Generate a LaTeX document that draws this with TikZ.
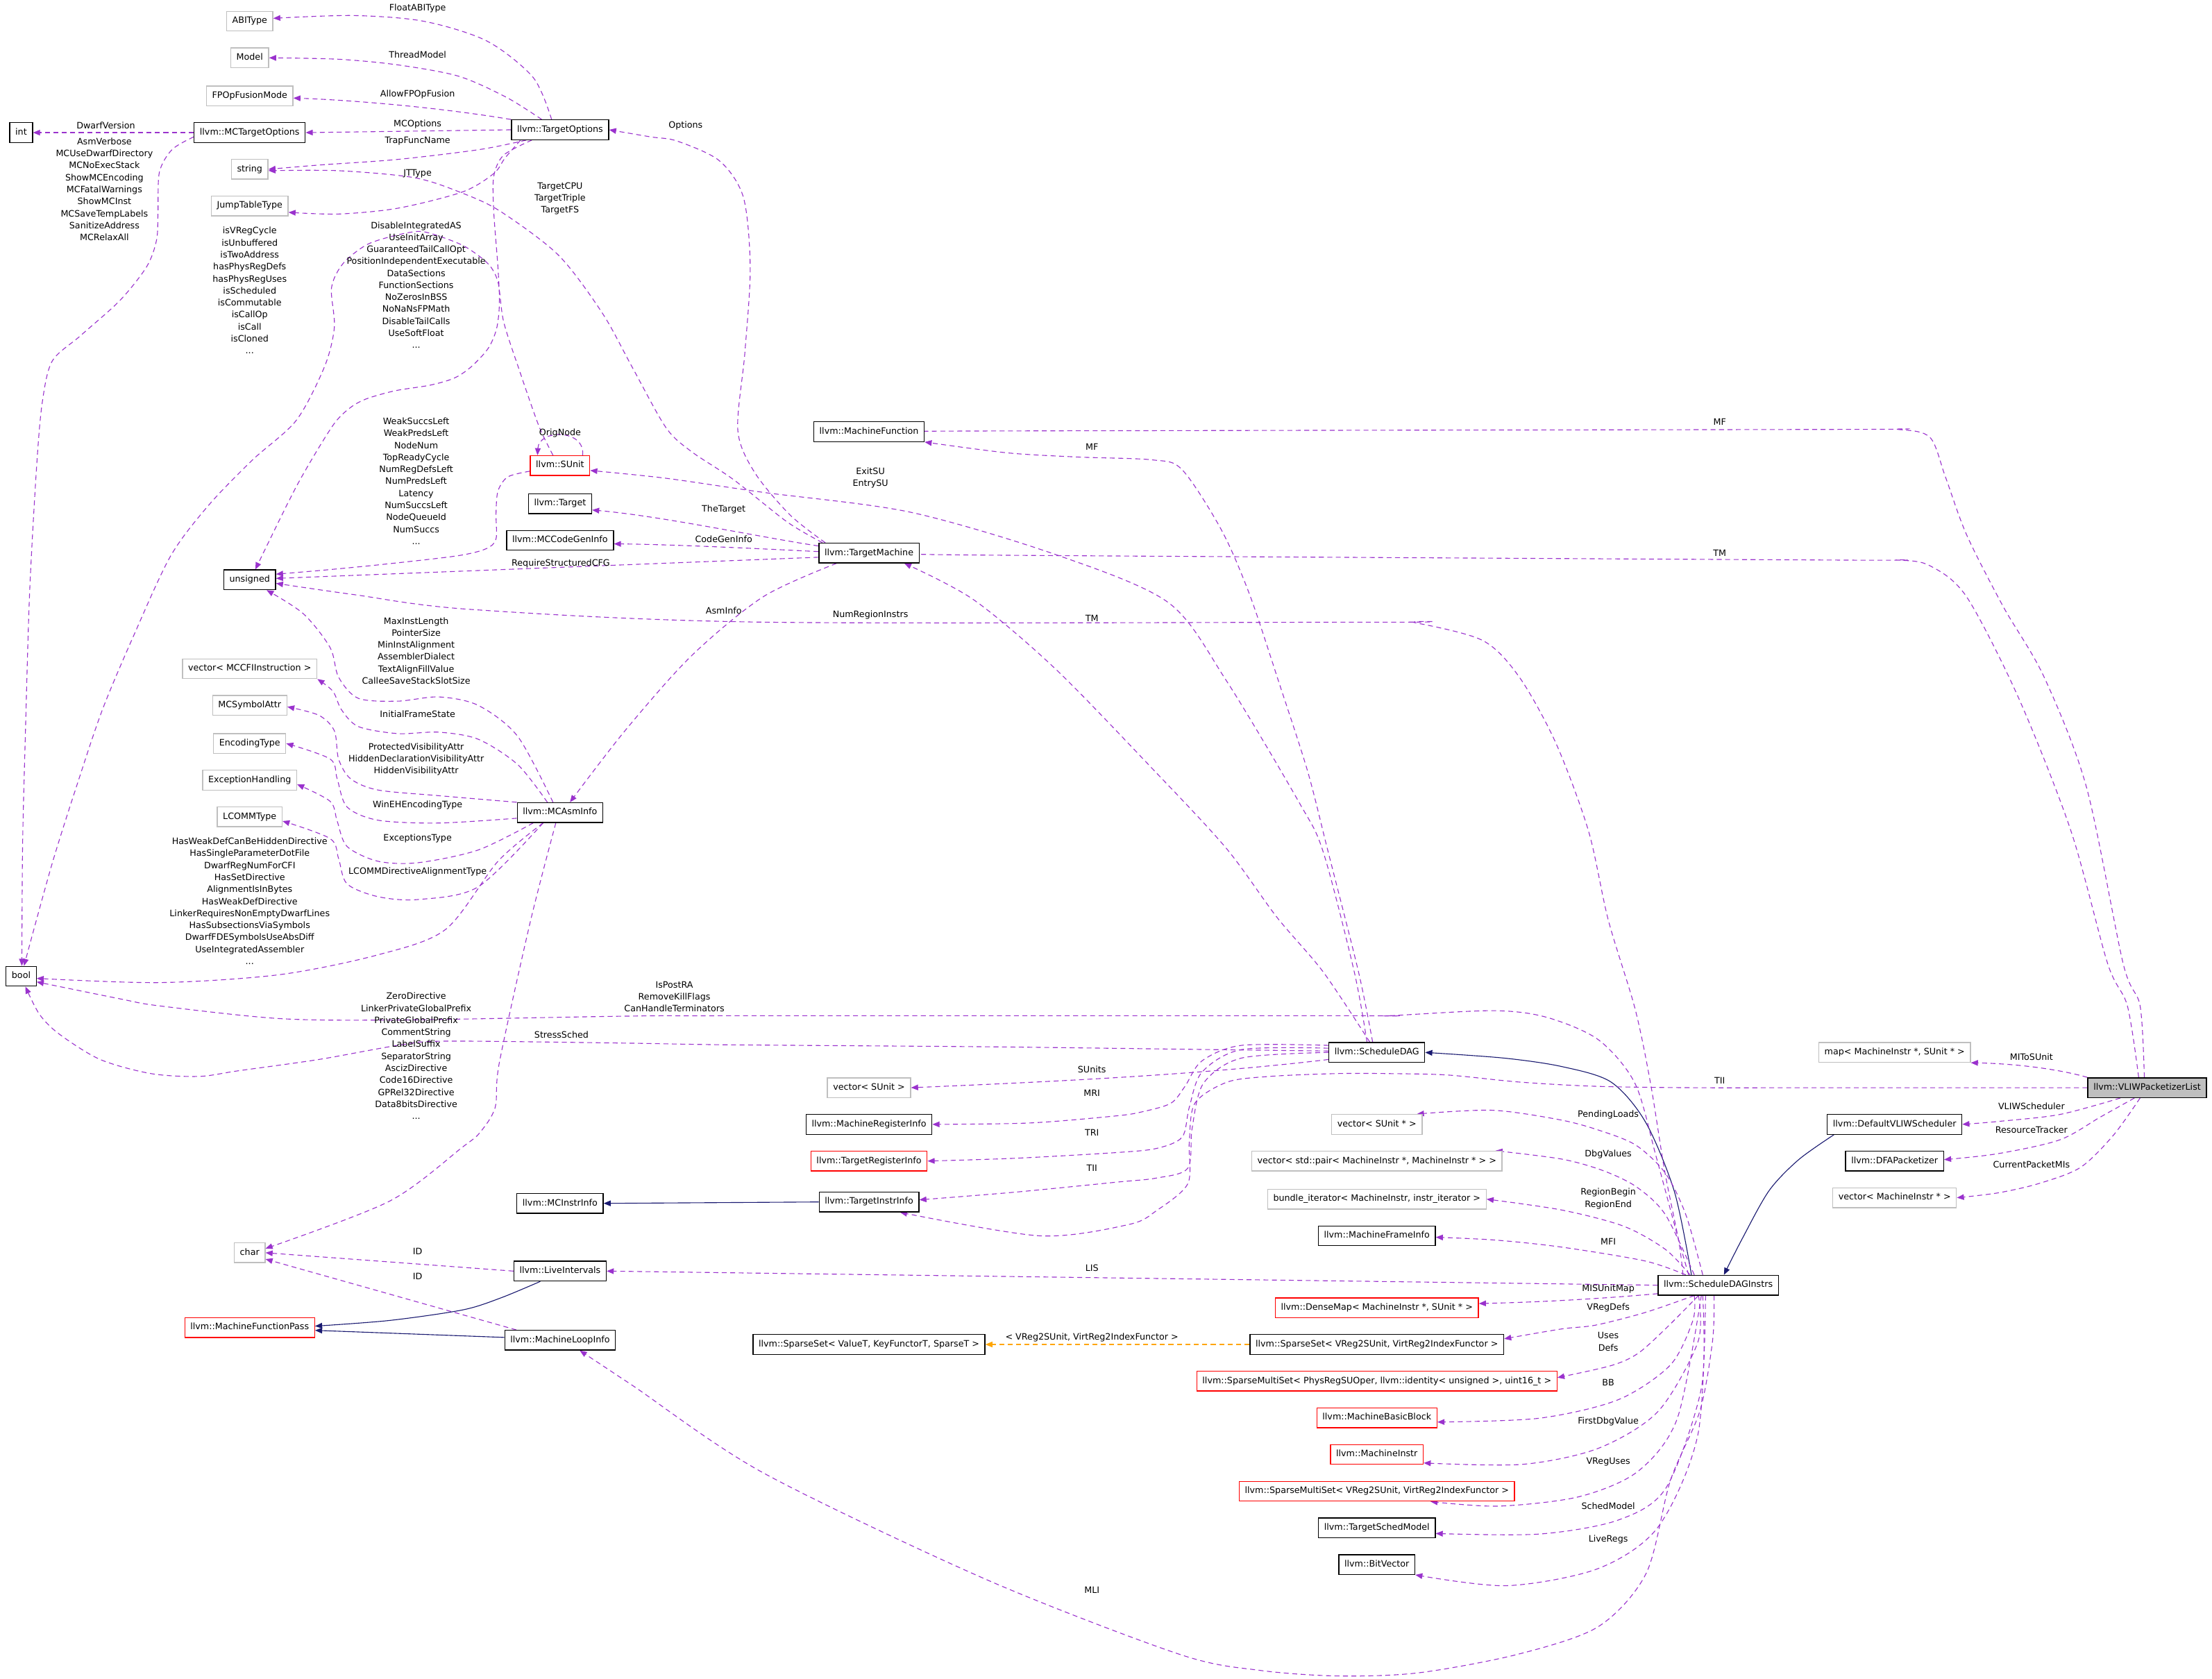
\documentclass[tikz,border=0pt]{standalone}
\usepackage{fontspec}
\setmainfont{DejaVu Sans}
\usetikzlibrary{arrows.meta}
\definecolor{purp}{HTML}{9A32CD}
\definecolor{navyc}{HTML}{191970}
\definecolor{orng}{HTML}{FFA500}
\definecolor{greyc}{HTML}{BFBFBF}
\newcommand\dfont{\fontsize{6.25}{8.5}\selectfont}
\pgfdeclarelayer{bg}
\pgfsetlayers{bg,main}
\tikzset{
 base/.style={rectangle, font=\dfont, minimum height=14pt, inner xsep=4pt, inner ysep=0pt, text height=4.6pt, text depth=1.4pt, line width=0.65pt, fill=white},
 cls/.style={base, draw=black},
 ext/.style={base, draw=greyc},
 redc/.style={base, draw=red},
 cur/.style={base, draw=black, fill=greyc},
 lab/.style={font=\dfont, inner sep=0pt, align=center},
 ed/.style={draw=purp, dash pattern=on 3.5pt off 2.5pt, line width=0.55pt, -{Triangle[length=5pt,width=4pt]}},
 inh/.style={draw=navyc, line width=0.55pt, -{Triangle[length=5pt,width=4pt]}},
 tmpl/.style={draw=orng, dash pattern=on 3.5pt off 2.5pt, line width=0.55pt, -{Triangle[length=5pt,width=4pt]}},
 sm/.style={smooth, tension=0.5}
}
\begin{document}
\begin{tikzpicture}[x=1pt,y=-1pt]
\useasboundingbox (0,0) rectangle (1568,1190);
% ---------- nodes ----------
\node[ext] (ABI) at (177,15) {ABIType};
\node[ext] (Model) at (177,41) {Model};
\node[ext] (FPO) at (177,68) {FPOpFusionMode};
\node[cls] (int) at (15,94) {int};
\node[cls] (MCTO) at (177,94) {llvm::MCTargetOptions};
\node[cls] (TO) at (397,92) {llvm::TargetOptions};
\node[ext] (str) at (177,120) {string};
\node[ext] (JTT) at (177,146) {JumpTableType};
\node[redc] (SU) at (397,330) {llvm::SUnit};
\node[cls] (Tgt) at (397,357) {llvm::Target};
\node[cls] (MCCGI) at (397,383) {llvm::MCCodeGenInfo};
\node[cls] (uns) at (177,411) {unsigned};
\node[ext] (vCFI) at (177,474) {vector< MCCFIInstruction >};
\node[ext] (MSA) at (177,500) {MCSymbolAttr};
\node[ext] (Enc) at (177,527) {EncodingType};
\node[ext] (ExH) at (177,553) {ExceptionHandling};
\node[ext] (LCT) at (177,579) {LCOMMType};
\node[cls] (MAI) at (397,576) {llvm::MCAsmInfo};
\node[cls] (bool) at (15,692) {bool};
\node[cls] (MII) at (397,853) {llvm::MCInstrInfo};
\node[ext] (chr) at (177,888) {char};
\node[cls] (LI) at (397,901) {llvm::LiveIntervals};
\node[redc] (MFP) at (177,941) {llvm::MachineFunctionPass};
\node[cls] (MLI) at (397,950) {llvm::MachineLoopInfo};
\node[cls] (MF) at (616,306) {llvm::MachineFunction};
\node[cls] (TM) at (616,392) {llvm::TargetMachine};
\node[cls] (SD) at (976,746) {llvm::ScheduleDAG};
\node[ext] (vSU) at (616,771) {vector< SUnit >};
\node[cls] (MRI) at (616,797) {llvm::MachineRegisterInfo};
\node[redc] (TRI) at (616,823) {llvm::TargetRegisterInfo};
\node[cls] (TII) at (616,852) {llvm::TargetInstrInfo};
\node[ext] (vSUp) at (976,797) {vector< SUnit * >};
\node[ext] (vPair) at (976,823) {vector< std::pair< MachineInstr *, MachineInstr * > >};
\node[ext] (bIt) at (976,850) {bundle\_iterator< MachineInstr, instr\_iterator >};
\node[cls] (MFI) at (976,876) {llvm::MachineFrameInfo};
\node[redc] (DM) at (976,927) {llvm::DenseMap< MachineInstr *, SUnit * >};
\node[cls] (SST) at (616,953) {llvm::SparseSet< ValueT, KeyFunctorT, SparseT >};
\node[cls] (SSV) at (976,953) {llvm::SparseSet< VReg2SUnit, VirtReg2IndexFunctor >};
\node[redc] (SMP) at (976,979) {llvm::SparseMultiSet< PhysRegSUOper, llvm::identity< unsigned >, uint16\_t >};
\node[redc] (MBB) at (976,1005) {llvm::MachineBasicBlock};
\node[redc] (MI) at (976,1031) {llvm::MachineInstr};
\node[redc] (SMV) at (976,1057) {llvm::SparseMultiSet< VReg2SUnit, VirtReg2IndexFunctor >};
\node[cls] (TSM) at (976,1083) {llvm::TargetSchedModel};
\node[cls] (BV) at (976,1109) {llvm::BitVector};
\node[ext] (map) at (1343,746) {map< MachineInstr *, SUnit * >};
\node[cur] (VL) at (1522,771) {llvm::VLIWPacketizerList};
\node[cls] (DVS) at (1343,797) {llvm::DefaultVLIWScheduler};
\node[cls] (DFA) at (1343,823) {llvm::DFAPacketizer};
\node[ext] (vMI) at (1343,849) {vector< MachineInstr * >};
\node[cls] (SDI) at (1218,911) {llvm::ScheduleDAGInstrs};
% ---------- labels ----------
\node[lab] (L1) at (296,6) {FloatABIType};
\node[lab] (L2) at (296,39) {ThreadModel};
\node[lab] (L3) at (296,67) {AllowFPOpFusion};
\node[lab] (L4) at (75,89) {DwarfVersion};
\node[lab] (L5) at (296,88) {MCOptions};
\node[lab] (L6) at (296,100) {TrapFuncName};
\node[lab] (L7) at (296,123) {JTType};
\node[lab] (L8) at (74,134.2) {AsmVerbose\\MCUseDwarfDirectory\\MCNoExecStack\\ShowMCEncoding\\MCFatalWarnings\\ShowMCInst\\MCSaveTempLabels\\SanitizeAddress\\MCRelaxAll};
\node[lab] (L9) at (397,140.7) {TargetCPU\\TargetTriple\\TargetFS};
\node[lab] (L10) at (177,205.9) {isVRegCycle\\isUnbuffered\\isTwoAddress\\hasPhysRegDefs\\hasPhysRegUses\\isScheduled\\isCommutable\\isCallOp\\isCall\\isCloned\\...};
\node[lab] (L11) at (295,202) {DisableIntegratedAS\\UseInitArray\\GuaranteedTailCallOpt\\PositionIndependentExecutable\\DataSections\\FunctionSections\\NoZerosInBSS\\NoNaNsFPMath\\DisableTailCalls\\UseSoftFloat\\...};
\node[lab] (L12) at (397,307) {OrigNode};
\node[lab] (L13) at (295,341) {WeakSuccsLeft\\WeakPredsLeft\\NodeNum\\TopReadyCycle\\NumRegDefsLeft\\NumPredsLeft\\Latency\\NumSuccsLeft\\NodeQueueId\\NumSuccs\\...};
\node[lab] (L14) at (397.5,399.5) {RequireStructuredCFG};
\node[lab] (L15) at (513,361) {TheTarget};
\node[lab] (L16) at (513,382) {CodeGenInfo};
\node[lab] (L17) at (513,433) {AsmInfo};
\node[lab] (L18) at (486,89) {Options};
\node[lab] (L19) at (774,317) {MF};
\node[lab] (L20) at (617,338.7) {ExitSU\\EntrySU};
\node[lab] (L21) at (1219,299) {MF};
\node[lab] (L22) at (1219,392) {TM};
\node[lab] (L23) at (617,436) {NumRegionInstrs};
\node[lab] (L24) at (774,438.5) {TM};
\node[lab] (L25) at (295,461.3) {MaxInstLength\\PointerSize\\MinInstAlignment\\AssemblerDialect\\TextAlignFillValue\\CalleeSaveStackSlotSize};
\node[lab] (L26) at (296,506) {InitialFrameState};
\node[lab] (L27) at (295,538.3) {ProtectedVisibilityAttr\\HiddenDeclarationVisibilityAttr\\HiddenVisibilityAttr};
\node[lab] (L28) at (296,570.5) {WinEHEncodingType};
\node[lab] (L29) at (296,594.2) {ExceptionsType};
\node[lab] (L30) at (296,617.7) {LCOMMDirectiveAlignmentType};
\node[lab] (L31) at (177,638.7) {HasWeakDefCanBeHiddenDirective\\HasSingleParameterDotFile\\DwarfRegNumForCFI\\HasSetDirective\\AlignmentIsInBytes\\HasWeakDefDirective\\LinkerRequiresNonEmptyDwarfLines\\HasSubsectionsViaSymbols\\DwarfFDESymbolsUseAbsDiff\\UseIntegratedAssembler\\...};
\node[lab] (L32) at (478,706.5) {IsPostRA\\RemoveKillFlags\\CanHandleTerminators};
\node[lab] (L33) at (295,748.5) {ZeroDirective\\LinkerPrivateGlobalPrefix\\PrivateGlobalPrefix\\CommentString\\LabelSuffix\\SeparatorString\\AscizDirective\\Code16Directive\\GPRel32Directive\\Data8bitsDirective\\...};
\node[lab] (L34) at (398,733.4) {StressSched};
\node[lab] (L35) at (774,758) {SUnits};
\node[lab] (L36) at (774,775) {MRI};
\node[lab] (L37) at (774,803) {TRI};
\node[lab] (L38) at (774,828) {TII};
\node[lab] (L39) at (1219,766) {TII};
\node[lab] (L40) at (774,899) {LIS};
\node[lab] (L41) at (296,887) {ID};
\node[lab] (L42) at (296,904.6) {ID};
\node[lab] (L43) at (774,948.3) {< VReg2SUnit, VirtReg2IndexFunctor >};
\node[lab] (L44) at (774,1127) {MLI};
\node[lab] (L45) at (1140,790) {PendingLoads};
\node[lab] (L46) at (1140,818) {DbgValues};
\node[lab] (L47) at (1140,849.7) {RegionBegin\\RegionEnd};
\node[lab] (L48) at (1140,880) {MFI};
\node[lab] (L49) at (1140,913.4) {MISUnitMap};
\node[lab] (L50) at (1140,927) {VRegDefs};
\node[lab] (L51) at (1140,951) {Uses\\Defs};
\node[lab] (L52) at (1140,980) {BB};
\node[lab] (L53) at (1140,1007.5) {FirstDbgValue};
\node[lab] (L54) at (1140,1036.3) {VRegUses};
\node[lab] (L55) at (1140,1067.6) {SchedModel};
\node[lab] (L56) at (1140,1091.2) {LiveRegs};
\node[lab] (L57) at (1440,749.3) {MIToSUnit};
\node[lab] (L58) at (1440,784) {VLIWScheduler};
\node[lab] (L59) at (1440,801) {ResourceTracker};
\node[lab] (L60) at (1440,825.3) {CurrentPacketMIs};
% ---------- edges ----------
\begin{pgfonlayer}{bg}
% TargetOptions
\draw[ed] plot[sm] coordinates {([xshift=-6pt]TO.north) (378,55) (345,29) (300,15) (250,11) ([yshift=2pt]ABI.east)};
\draw[ed] plot[sm] coordinates {([xshift=-13pt]TO.north) (359,69) (325,54) (282,46) (240,42) (Model.east)};
\draw[ed] (TO.north west) .. controls (310,76) and (250,71) .. ([yshift=-1.5pt]FPO.east);
\draw[ed] (TO.west) -- (MCTO.east);
\draw[ed] (MCTO.west) -- (int.east);
\draw[ed] plot[sm] coordinates {([yshift=-3pt]MCTO.west) (122,106) (113,122) (112,150) (111,170) (104,189) (85,213) (57,238) (37,256) (30,285) (26,330) (21,420) (18,520) (16,600) ([xshift=0.5pt]bool.north)};
\draw[ed] plot[sm] coordinates {([xshift=-24pt]TO.south) (340,106) (282,113) (226,117) (str.east)};
\draw[ed] plot[sm] coordinates {([xshift=-28pt]TO.south) (358,112) (350,123) (328,136) (282,147.6) (240,151.7) ([yshift=-4.5pt]JTT.east)};
\draw[ed] plot[sm] coordinates {([xshift=-20pt]TO.south) (357,110) (350,125) (350,150) (353,190) (354,215) (352,233) (346,247) (334,260) (322,268) (305,273) (280,277) (259,283) (247,290) (235,303) (210,345) ([xshift=4pt]uns.north)};
% TargetMachine
\draw[ed] plot[sm] coordinates {([xshift=-33pt]TM.north) (558,370) (520,340) (490,320) (472,303) (448,260) (427,222) (396,181) (355,150) (328,137) (294,126) (240,121) ([yshift=-1pt]str.east)};
\draw[ed] plot[sm] coordinates {([xshift=-31pt]TM.north) (560,365) (535,335) (523,305) (528,250) (531.8,190) (527,140) (510,114) (480,100) (461,97) (TO.east)};
\draw[ed] ([yshift=5pt]TM.west) .. controls (540,381) and (470,366) .. ([yshift=-4.5pt]Tgt.east);
\draw[ed] ([yshift=1pt]TM.west) .. controls (540,389) and (480,386) .. ([yshift=-2.5pt]MCCGI.east);
\draw[ed] ([yshift=-3pt]TM.west) -- ([yshift=1pt]uns.east);
\draw[ed] plot[sm] coordinates {([xshift=-23pt]TM.south) (541,423) (490,465) (443,518) ([xshift=7pt]MAI.north)};
% SUnit
\draw[ed] plot[sm] coordinates {([xshift=-5pt]SU.north) (382,302) (368,262) (357,228) (353,200) (346,187) (330,175) (313,168) (297,164) (276,168) (259,174) (243,187) (235,204) (237,232) (230,260) (210,298) (179,326) (148,358) (121,394) (95,450) (73,502) (56,552) (37,612) ([xshift=2pt]bool.north)};
\draw[ed] ([xshift=16pt]SU.north) .. controls (415,304) and (382,304) .. ([xshift=-16pt]SU.north);
\draw[ed] plot[sm] coordinates {([yshift=-4pt]SU.west) (360,338) (353,348) (351.6,364) (351.6,382) (344.5,389) (324,394) (272,400) (231,404) ([yshift=4pt]uns.east)};
% MCAsmInfo
\draw[ed] plot[sm] coordinates {([xshift=-5pt]MAI.north) (367,522) (339,500) (311,494) (282,497) (254,495) (240,480) (234,459) (215,435) ([xshift=12pt]uns.south)};
\draw[ed] plot[sm] coordinates {([xshift=-9pt]MAI.north) (367,542) (339,524) (311,519) (282,520) (254,515) (242,503) (236,490) (vCFI.south east)};
\draw[ed] plot[sm] coordinates {(MAI.north west) (311,564) (268,560) (248.5,552) (240,538) (237,518) (226,507) ([yshift=-1pt]MSA.east)};
\draw[ed] plot[sm] coordinates {([yshift=-4pt]MAI.west) (311,583.4) (268,581.4) (246,572) (239,552) (234,538) (Enc.east)};
\draw[ed] plot[sm] coordinates {([xshift=-19pt]MAI.south) (339,602.5) (296.5,611.5) (268,610.5) (246,600) (239,582) (234,568) ([yshift=-3pt]ExH.east)};
\draw[ed] plot[sm] coordinates {([xshift=-12pt]MAI.south) (339,628.6) (296.5,637.6) (268,635.6) (246,626.5) (240,608.5) (234,594.4) ([yshift=-3pt]LCT.east)};
\draw[ed] plot[sm] coordinates {([xshift=-12pt]MAI.south) (353,610.5) (316,658.7) (268,676.8) (198,690.9) (113,696.5) ([yshift=-1.5pt]bool.east)};
\draw[ed] plot[sm] coordinates {([xshift=-3pt]MAI.south) (376,653) (354,753) (351,785) (340,803) (328,813) (276,851.5) ([yshift=3pt]chr.east)};
% ScheduleDAG
\draw[ed] plot[sm] coordinates {([xshift=-5pt]SD.north) (938,689) (905,650) (869,601) (817,545) (748,474) (690,425) ([xshift=25pt]TM.south)};
\draw[ed] plot[sm] coordinates {([xshift=-3pt]SD.north) (963,689) (941,602) (927,547) (907,485) (886,422) (866,376) (838,333) (817,326) (765,324) (714,321) (MF.south east)};
\draw[ed] plot[sm] coordinates {([xshift=-7pt]SD.north) (960,689) (938,604) (921,569) (869,482) (828,427) (748,393) (645,363) (541,349) (472,339) ([yshift=-3.5pt]SU.east)};
\draw[ed] plot[sm] coordinates {([yshift=1pt]SD.west) (860,744) (700,742) (517,740.6) (443,739.4) (316,738) (282,741) (226,751) (169,759) (141,763) (107,761) (71,751) (42,733) (28,719) ([xshift=3pt]bool.south)};
\draw[ed] ([yshift=-5pt]SD.west) .. controls (850,762) and (740,767) .. (vSU.east);
\draw[ed] plot[sm] coordinates {([yshift=5pt]SD.west) (880,741) (852,752) (840,770) (830,782) (810,788) (791,791) (730,796) (MRI.east)};
\draw[ed] plot[sm] coordinates {([yshift=3pt]SD.west) (880,744) (852,760) (843,785) (838,806) (820,814) (791,817) (720,821) (TRI.east)};
\draw[ed] plot[sm] coordinates {(SD.west) (880,750) (853,768) (845,800) (842,828) (820,835) (791,838) (720,845) ([yshift=1.5pt]TII.east)};
% ScheduleDAGInstrs
\draw[inh] plot[sm] coordinates {([xshift=-19pt]SDI.north) (1187,845) (1166.5,795.5) (1142,767) (1107,756) (1066,750) (SD.east)};
\draw[ed] plot[sm] coordinates {([xshift=-25pt]SDI.north) (1190,880) (1180,830) (1170,768) (1159,715) (1140,652) (1126,589) (1103,527) (1077,480) (1051,454) (1003,441.4) (984,441) (541,441) (334,432) (251,421.5) ([yshift=-2.5pt]uns.east)};
\draw[ed] plot[sm] coordinates {([xshift=-21pt]SDI.north) (1188,872) (1174,820) (1159,768) (1133,737) (1096,721) (1058,716.4) (984,720) (960,720) (517,720) (443,720.3) (282,723) (198,722) (113,713) (85,708) ([yshift=-4pt]bool.east)};
\draw[ed] (SDI.west) -- (LI.east);
\draw[ed] plot[sm] coordinates {([xshift=-3pt]SDI.south) (1214,950) (1205,1000) (1184,1049.6) (1167,1115) (1133,1153) (1076,1172.6) (1006,1185.7) (949,1188) (893,1184) (836,1172.6) (700,1120) (541,1044) (449,982.5) ([xshift=14pt]MLI.south)};
\draw[ed] plot[sm] coordinates {([xshift=-11pt]SDI.north) (1195,861) (1180.5,831.6) (1160,812) (1136,802) (1107,794) (1058,787) ([xshift=-4pt]vSUp.north east)};
\draw[ed] plot[sm] coordinates {([xshift=-17pt]SDI.north) (1180.5,861) (1160,841.3) (1136.4,829.8) (1107,821.6) ([xshift=-5pt]vPair.north east)};
\draw[ed] plot[sm] coordinates {([xshift=-20pt]SDI.north) (1180.5,885.6) (1151,869.2) (1107,857.7) (bIt.east)};
\draw[ed] plot[sm] coordinates {([xshift=-23pt]SDI.north) (1166,893.8) (1107,884) (1060,879) ([yshift=-1pt]MFI.east)};
\draw[ed] ([yshift=-6pt]SDI.west) .. controls (1130,921) and (1090,923) .. ([yshift=3pt]DM.east);
\draw[ed] plot[sm] coordinates {([xshift=-17pt]SDI.south) (1166,930.4) (1131,939.3) (1107,942) ([yshift=4pt]SSV.east)};
\draw[ed] plot[sm] coordinates {([xshift=-14pt]SDI.south) (1180.5,942) (1161,959.4) (1142,968) ([yshift=2.5pt]SMP.east)};
\draw[ed] plot[sm] coordinates {([xshift=-17pt]SDI.south) (1200,936) (1184,967.6) (1147,992.2) (1091,1005.3) ([yshift=-3pt]MBB.east)};
\draw[ed] plot[sm] coordinates {([xshift=-14pt]SDI.south) (1203.6,951.2) (1175.4,1000.4) (1133,1026.6) (1079,1038) ([yshift=-6pt]MI.east)};
\draw[ed] plot[sm] coordinates {([xshift=-12pt]SDI.south) (1189,1005.3) (1161,1043) (1119,1061) (1062,1067.6) ([xshift=38pt]SMV.south)};
\draw[ed] plot[sm] coordinates {([xshift=-11pt]SDI.south) (1206,984) (1181,1054.6) (1147,1077.5) (1091,1087.4) ([yshift=-4pt]TSM.east)};
\draw[ed] plot[sm] coordinates {([xshift=-9pt]SDI.south) (1203.6,1016.7) (1175.4,1082.3) (1133,1111.8) (1068,1124) (BV.south east)};
\draw[tmpl] (SSV.west) -- (SST.east);
% passes, instr info
\draw[inh] (TII.west) -- (MII.east);
\draw[ed] (LI.west) -- (chr.east);
\draw[ed] ([xshift=-31pt]MLI.north) -- ([yshift=-4.5pt]chr.east);
\draw[inh] plot[sm] coordinates {([xshift=-14pt]LI.south) (355,920) (328,928.5) (276,936) ([yshift=1pt]MFP.east)};
\draw[inh] ([yshift=2pt]MLI.west) -- ([yshift=-2pt]MFP.east);
% VLIWPacketizerList
\draw[inh] plot[sm] coordinates {([xshift=-43pt]DVS.south) (1275,822) (1254,844) (1235,878) ([xshift=4pt]SDI.north)};
\draw[ed] (VL.north west) .. controls (1460,758) and (1430,754) .. (map.south east);
\draw[ed] plot[sm] coordinates {([xshift=-19pt]VL.south) (1460,790) (1415.6,795) (DVS.east)};
\draw[ed] plot[sm] coordinates {([xshift=-9pt]VL.south) (1489,791.7) (1460,808) (1416,817.8) ([yshift=1pt]DFA.east)};
\draw[ed] plot[sm] coordinates {([xshift=-5pt]VL.south) (1498,804.8) (1474.6,827.6) (1445,839) (1416,845.6) (vMI.east)};
\draw[ed] plot[sm] coordinates {([xshift=-2pt]VL.north) (1517,713) (1505,683) (1479,558) (1449,480) (1420,430) (1394,379) (1379,338) (1368,310) (1345,304.4) (1300,304.4) (700,305.5) (MF.east)};
\draw[ed] plot[sm] coordinates {([xshift=-6pt]VL.north) (1508,713) (1494,683) (1468,589) (1431,495) (1394,423) (1368,401) (1345,397) (1300,397) (700,393.5) (TM.east)};
\draw[ed] plot[sm] coordinates {(VL.west) (1300,771) (1200,771) (1131,770) (1077,767) (1026,762) (984,761) (947,761) (900,763) (870,767) (847,782) (843,810) (842,839) (820,858) (800,868) (737,876) ([xshift=22pt]TII.south)};
\end{pgfonlayer}
\end{tikzpicture}
\end{document}
